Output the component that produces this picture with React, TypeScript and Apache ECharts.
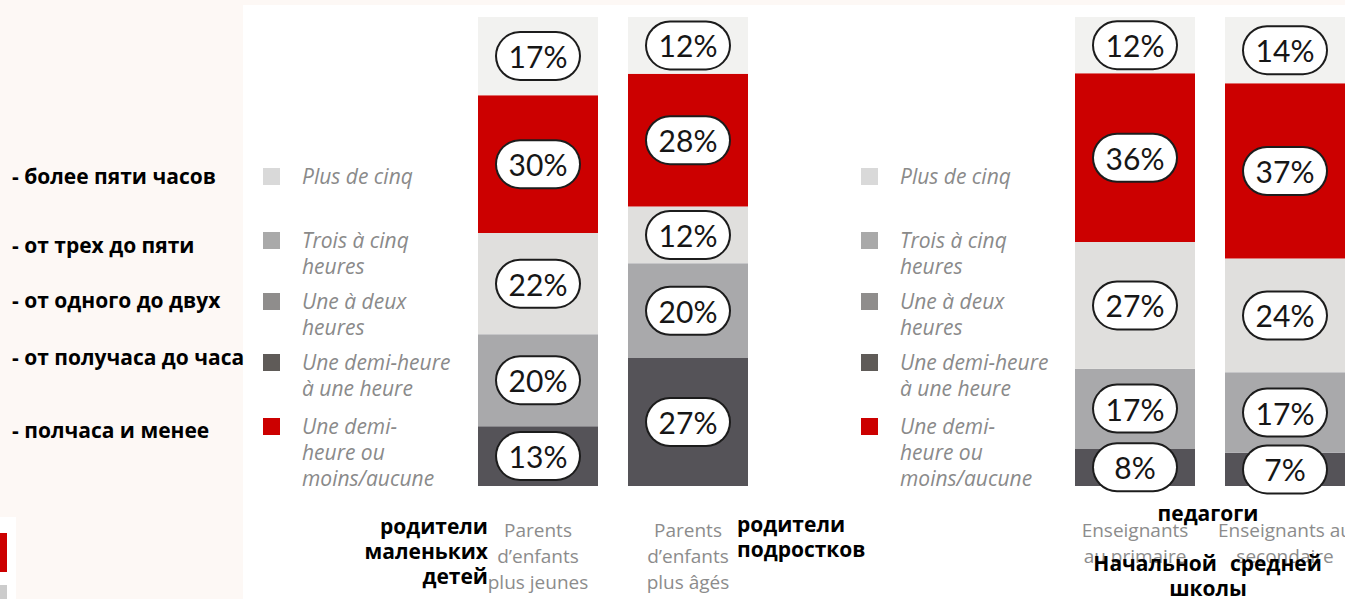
import React, { useEffect, useRef } from "react";
import * as echarts from "echarts";

// Categories (x-axis labels, two panels)
const leftCategories = ["Parents\nd’enfants\nplus jeunes", "Parents\nd’enfants\nplus âgés"];
const rightCategories = ["Enseignants\nau primaire", "Enseignants au\nsecondaire"];

// Segment values per bar (order of bars: parents young, parents old, teachers primary, teachers secondary)
// Listed from bottom of the stack to the top
const halfToOneHour = [13, 27, 8, 7];
const oneToTwoHours = [20, 20, 17, 17];
const threeToFiveHours = [22, 12, 27, 24];
const halfHourOrLess = [30, 28, 36, 37];
const moreThanFive = [17, 12, 12, 14];

const seriesNames = [
  "Une demi-heure à une heure",
  "Une à deux heures",
  "Trois à cinq heures",
  "Une demi-heure ou moins/aucune",
  "Plus de cinq",
];
const seriesValues = [halfToOneHour, oneToTwoHours, threeToFiveHours, halfHourOrLess, moreThanFive];

// Legend (French) texts, top to bottom
const legendTexts = [
  "Plus de cinq",
  "Trois à cinq\nheures",
  "Une à deux\nheures",
  "Une demi-heure\nà une heure",
  "Une demi-\nheure ou\nmoins/aucune",
];

// Russian annotations
const ruLegend = [
  "- более пяти часов",
  "- от трех до пяти",
  "- от одного до двух",
  "- от получаса до часа",
  "- полчаса и менее",
];
const ruParentsYoung = ["родители", "маленьких", "детей"];
const ruParentsOld = ["родители", "подростков"];
const ruTeachersTitle = "педагоги";
const ruPrimary = "Начальной";
const ruSecondary = "средней";
const ruSchool = "школы";

const BAR_COLORS = ["#555358", "#a9a9ab", "#e0dfdd", "#cc0000", "#f2f2f0"];
const LEGEND_COLORS = ["#d9d9d9", "#a9a9a9", "#8f8d8c", "#5f5b58", "#cc0000"];

export default function App() {
  const ref = useRef<HTMLDivElement>(null);

  useEffect(() => {
    if (!ref.current) return;
    const chart = echarts.init(ref.current, undefined, { renderer: "svg" });

    const nBars = halfToOneHour.length;
    const totals = Array.from({ length: nBars }, (_, i) =>
      seriesValues.reduce((s, arr) => s + arr[i], 0)
    );

    const series: any[] = [];
    for (let g = 0; g < 2; g++) {
      seriesValues.forEach((vals, s) => {
        series.push({
          type: "bar",
          name: seriesNames[s],
          xAxisIndex: g,
          yAxisIndex: g,
          stack: "total" + g,
          barWidth: 120,
          itemStyle: { color: BAR_COLORS[s] },
          label: {
            show: true,
            position: "inside",
            color: "#161616",
            fontFamily: "Lato",
            fontSize: 30,
            lineHeight: 32,
            height: 32,
            width: 56,
            align: "center",
            verticalAlign: "middle",
            backgroundColor: "#ffffff",
            borderColor: "#1c1c1c",
            borderWidth: 2,
            borderRadius: 23,
            padding: [7, 13],
          },
          data: [2 * g, 2 * g + 1].map((i) => ({
            value: (vals[i] / totals[i]) * 100,
            label: { formatter: `${vals[i]}%` },
          })),
        });
      });
    }

    const graphics: any[] = [];
    // white panel
    graphics.push({ type: "rect", z: -10, silent: true, shape: { x: 243, y: 5, width: 1200, height: 594 }, style: { fill: "#ffffff" } });
    // bottom-left fragment
    graphics.push({ type: "rect", z: -10, silent: true, shape: { x: 0, y: 517, width: 16, height: 82 }, style: { fill: "#ffffff" } });
    graphics.push({ type: "rect", z: -5, silent: true, shape: { x: 0, y: 533, width: 7, height: 39 }, style: { fill: "#cc0000" } });
    graphics.push({ type: "rect", z: -5, silent: true, shape: { x: 0, y: 585, width: 7, height: 14 }, style: { fill: "#cccccc" } });

    // French legends (two panels)
    const legendY = [176, 240, 301, 362, 426];
    const legendX = [263, 861];
    legendX.forEach((lx) => {
      legendTexts.forEach((t, k) => {
        graphics.push({
          type: "rect",
          z: 10,
          shape: { x: lx, y: legendY[k] - 8, width: 17, height: 17 },
          style: { fill: LEGEND_COLORS[k] },
        });
        t.split("\n").forEach((line, j) => {
          graphics.push({
            type: "text",
            z: 10,
            x: lx + 39,
            y: legendY[k] + j * 26,
            style: {
              text: line,
              fill: "#8a8a8a",
              fontFamily: "Open Sans",
              fontStyle: "italic",
              fontSize: 21,
              textAlign: "left",
              textVerticalAlign: "middle",
            },
          });
        });
      });
    });

    const ruStyle = (extra: any) => ({
      fill: "#000000",
      fontFamily: "Open Sans",
      fontWeight: "bold",
      fontSize: 21,
      textVerticalAlign: "middle",
      ...extra,
    });

    const ruY = [176, 245, 300, 357, 430];
    ruLegend.forEach((t, k) => {
      graphics.push({ type: "text", z: 100, x: 12, y: ruY[k], style: ruStyle({ text: t, textAlign: "left" }) });
    });
    ruParentsYoung.forEach((t, k) => {
      graphics.push({ type: "text", z: 100, x: 488, y: 526 + k * 25, style: ruStyle({ text: t, textAlign: "right" }) });
    });
    ruParentsOld.forEach((t, k) => {
      graphics.push({ type: "text", z: 100, x: 737, y: 524 + k * 25, style: ruStyle({ text: t, textAlign: "left" }) });
    });
    graphics.push({ type: "text", z: 100, x: 1208, y: 513, style: ruStyle({ text: ruTeachersTitle, textAlign: "center" }) });
    graphics.push({ type: "text", z: 100, x: 1217, y: 563, style: ruStyle({ text: ruPrimary, textAlign: "right" }) });
    graphics.push({ type: "text", z: 100, x: 1230, y: 563, style: ruStyle({ text: ruSecondary, textAlign: "left" }) });
    graphics.push({ type: "text", z: 100, x: 1208, y: 588, style: ruStyle({ text: ruSchool, textAlign: "center" }) });

    const xAxisCommon = {
      type: "category",
      axisLine: { show: false },
      axisTick: { show: false },
      axisLabel: {
        color: "#8c8c8c",
        fontFamily: "Open Sans",
        fontSize: 19,
        lineHeight: 26,
        margin: 31,
        interval: 0,
      },
    };

    chart.setOption({
      animation: false,
      backgroundColor: "#fdf8f5",
      grid: [
        { left: 463, top: 17, width: 300, height: 469 },
        { left: 1060, top: 17, width: 300, height: 469 },
      ],
      xAxis: [
        { ...xAxisCommon, gridIndex: 0, data: leftCategories },
        { ...xAxisCommon, gridIndex: 1, data: rightCategories },
      ],
      yAxis: [
        { type: "value", gridIndex: 0, min: 0, max: 100, show: false },
        { type: "value", gridIndex: 1, min: 0, max: 100, show: false },
      ],
      series,
      graphic: { elements: graphics },
    });

    return () => chart.dispose();
  }, []);

  return (
    <div
      ref={ref}
      style={{ position: "fixed", left: 0, top: 0, width: 1440, height: 599 }}
    />
  );
}
